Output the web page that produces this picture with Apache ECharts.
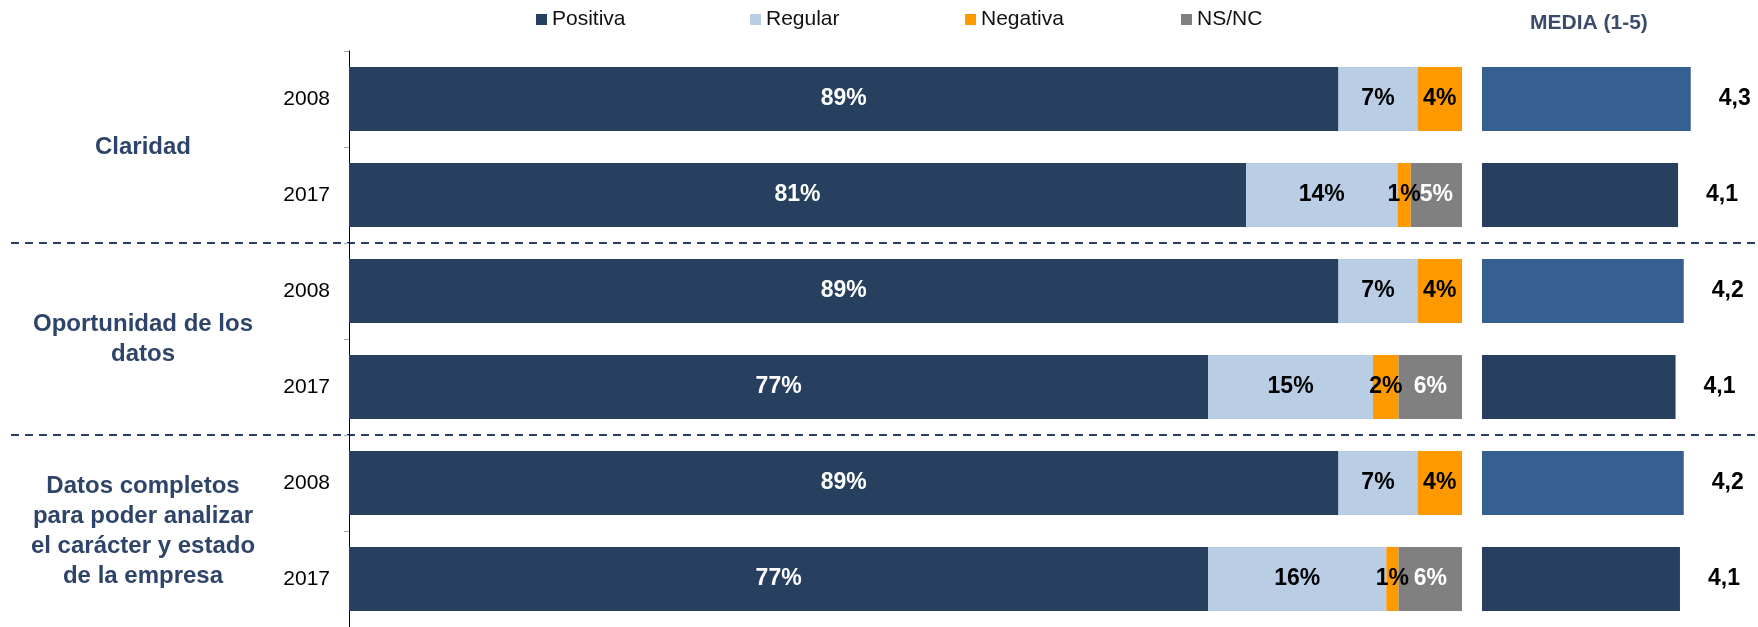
<!DOCTYPE html>
<html>
<head>
<meta charset="utf-8">
<script src="https://cdn.jsdelivr.net/npm/echarts@6/dist/echarts.min.js"></script>
<style>html,body{margin:0;padding:0;background:#fff;}#c{width:1758px;height:627px;}</style>
</head>
<body>
<div id="c"></div>
<script>
// ---- data ----
const years = ['2008', '2017', '2008', '2017', '2008', '2017'];
const groups = ['Claridad', 'Oportunidad de los\ndatos', 'Datos completos\npara poder analizar\nel carácter y estado\nde la empresa'];
const seriesNames = ['Positiva', 'Regular', 'Negativa', 'NS/NC'];
const positiva = [88.9, 80.6, 88.9, 77.2, 88.9, 77.2];
const regular  = [7.1, 13.6, 7.1, 14.8, 7.1, 16.0];
const negativa = [4.0, 1.2, 4.0, 2.3, 4.0, 1.1];
const nsnc     = [0, 4.6, 0, 5.7, 0, 5.7];
const media    = [4.30, 4.10, 4.19, 4.06, 4.19, 4.13];
const mediaTitle = 'MEDIA (1-5)';

// ---- styles ----
const FONT = '"Liberation Sans", Arial, sans-serif';
const colors = ['#27405F', '#B9CDE5', '#FF9900', '#808080'];
const labelColors = ['#ffffff', '#000000', '#000000', '#ffffff'];
const yearColors = { '2008': '#366092', '2017': '#27405F' };
const legendLefts = [531, 745, 960, 1176];

const chart = echarts.init(document.getElementById('c'), null, { renderer: 'canvas' });

const mainData = [positiva, regular, negativa, nsnc];
const series = mainData.map((arr, i) => ({
  name: seriesNames[i],
  type: 'bar',
  stack: 'main',
  xAxisIndex: 0,
  yAxisIndex: 0,
  barWidth: 64,
  data: arr,
  itemStyle: { color: colors[i] },
  label: {
    show: true,
    position: 'inside',
    color: labelColors[i],
    fontFamily: FONT,
    fontWeight: 'bold',
    fontSize: 23,
    formatter: p => (p.value > 0 ? Math.round(p.value) + '%' : '')
  },
  emphasis: { disabled: true }
}));

series.push({
  name: 'Media',
  type: 'bar',
  xAxisIndex: 1,
  yAxisIndex: 1,
  barWidth: 64,
  clip: true,
  data: media.map((v, i) => ({ value: v, itemStyle: { color: yearColors[years[i]] } })),
  label: {
    show: true,
    position: 'right',
    distance: 28,
    color: '#000',
    fontFamily: FONT,
    fontWeight: 'bold',
    fontSize: 23,
    formatter: p => p.value.toFixed(1).replace('.', ',')
  },
  emphasis: { disabled: true }
});

const legends = seriesNames.map((n, i) => ({
  data: [n],
  left: legendLefts[i],
  top: 4,
  icon: 'rect',
  itemWidth: 11,
  itemHeight: 11,
  selectedMode: false,
  textStyle: { fontFamily: FONT, fontSize: 21, color: '#111' }
}));

const option = {
  animation: false,
  backgroundColor: '#fff',
  title: {
    text: mediaTitle,
    left: 1525,
    top: 8,
    textStyle: { fontFamily: FONT, fontSize: 21, fontWeight: 'bold', color: '#3B4B6B' }
  },
  legend: legends,
  grid: [
    { left: 349, width: 1113, top: 51, height: 582 },
    { left: 1482, width: 253, top: 51, height: 582 },
    { left: 11, right: 0, top: 51, height: 582 }
  ],
  xAxis: [
    { gridIndex: 0, type: 'value', min: 0, max: 100, show: false },
    { gridIndex: 1, type: 'value', min: 1, max: 5, show: false },
    { gridIndex: 2, type: 'value', min: 0, max: 1, show: false }
  ],
  yAxis: [
    {
      gridIndex: 0, type: 'category', inverse: true, data: years,
      axisLine: { show: true, lineStyle: { color: '#000', width: 1 } },
      axisTick: { show: true, length: 5, lineStyle: { color: '#a6a6a6' } },
      axisLabel: { margin: 19, fontFamily: FONT, fontSize: 21, color: '#000' },
      splitLine: { show: false }
    },
    {
      gridIndex: 1, type: 'category', inverse: true, data: years, show: false
    },
    {
      gridIndex: 2, type: 'category', inverse: true, data: groups,
      axisLine: { show: false },
      axisTick: { show: false },
      axisLabel: {
        inside: true, align: 'center', margin: 132,
        fontFamily: FONT, fontSize: 24, fontWeight: 'bold', color: '#2E4569', lineHeight: 30
      },
      splitLine: {
        show: true, showMinLine: false, showMaxLine: false,
        lineStyle: { color: '#2B4163', width: 2, type: [8, 6] }
      }
    }
  ],
  series: series
};

chart.setOption(option);
</script>
</body>
</html>
